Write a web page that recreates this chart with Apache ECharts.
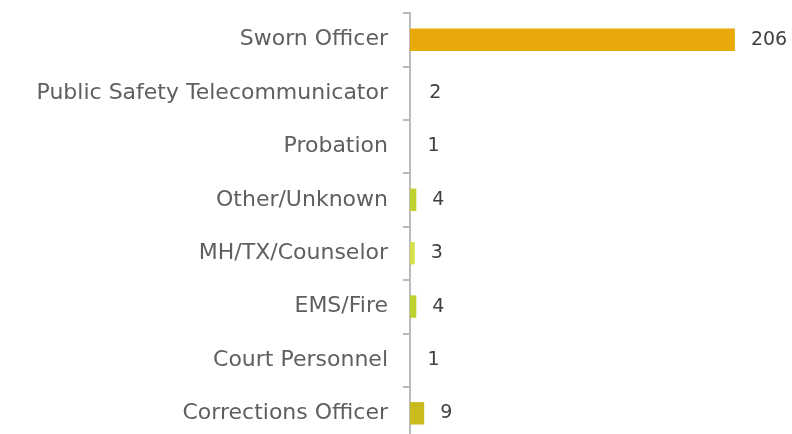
<!DOCTYPE html>
<html>
<head>
    <meta charset="utf-8">
    <script src="https://cdn.jsdelivr.net/npm/echarts@6/dist/echarts.min.js"></script>
    <style>
        html, body { margin: 0; padding: 0; background: #fff; }
        #chart { width: 792px; height: 434px; }
    </style>
</head>
<body>
<div id="chart"></div>
<script type="text/javascript">
    // categories, top to bottom
    var categories = ['Sworn Officer', 'Public Safety Telecommunicator', 'Probation', 'Other/Unknown',
        'MH/TX/Counselor', 'EMS/Fire', 'Court Personnel', 'Corrections Officer'];
    var counts = [206, 2, 1, 4, 3, 4, 1, 9];
    // bar colours (the tiny ones are not drawn in the original)
    var barColors = ['#EAA90A', 'transparent', 'transparent', '#BFD12F', '#D5E24A', '#BDD02E', 'transparent', '#CABA1E'];

    var seriesData = [];
    for (var i = 0; i < counts.length; i++) {
        seriesData.push({
            value: counts[i],
            itemStyle: { color: barColors[i] }
        });
    }

    var chart = echarts.init(document.getElementById('chart'));
    chart.setOption({
        animation: false,
        grid: {
            left: 410,
            right: 35,
            top: 13,
            height: 427,
            outerBoundsMode: 'none'
        },
        xAxis: {
            type: 'value',
            min: 0,
            max: 220,
            show: false
        },
        yAxis: {
            type: 'category',
            data: categories,
            inverse: true,
            axisLine: { show: true, lineStyle: { color: '#BBBBBB', width: 2 } },
            axisTick: { show: true, length: 7, lineStyle: { color: '#BBBBBB', width: 2 } },
            axisLabel: {
                color: '#5f5f5f',
                fontSize: 22,
                fontFamily: 'DejaVu Sans',
                margin: 22
            }
        },
        series: [{
            type: 'bar',
            data: seriesData,
            barWidth: '42%',
            label: {
                show: true,
                position: 'right',
                distance: 16,
                color: '#404040',
                fontSize: 19,
                fontFamily: 'DejaVu Sans'
            }
        }]
    });
</script>
</body>
</html>
